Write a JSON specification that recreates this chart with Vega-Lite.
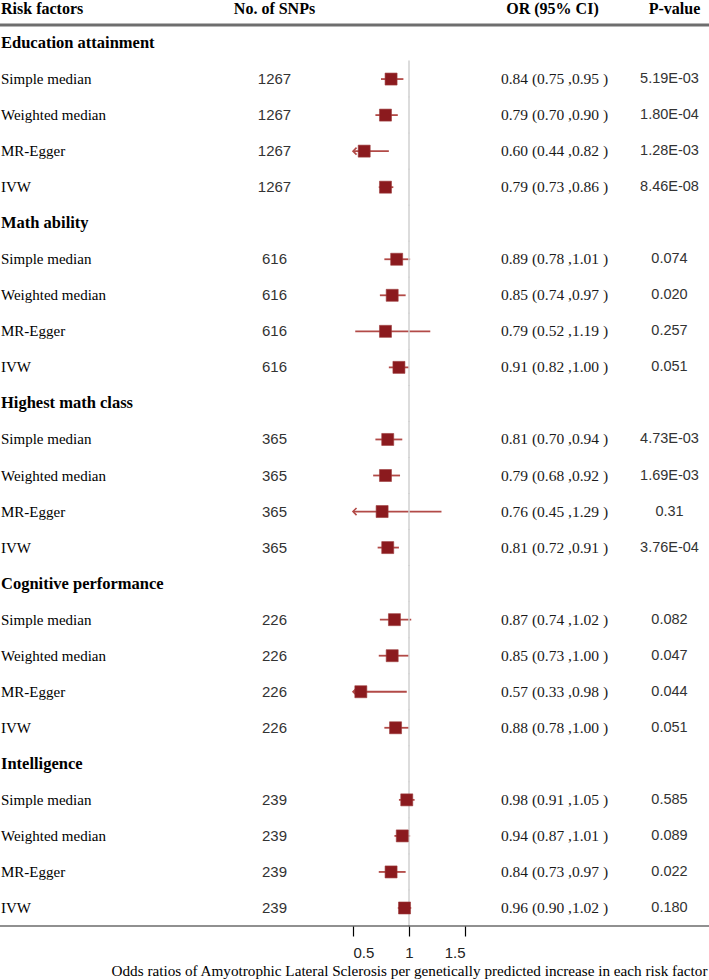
{
  "$schema": "https://vega.github.io/schema/vega-lite/v6.json",
  "padding": 0,
  "background": "white",
  "spacing": 0,
  "bounds": "flush",
  "config": {
    "view": {"stroke": null},
    "title": {"font": "Liberation Serif", "fontSize": 16, "fontWeight": "bold", "color": "#000", "offset": 7},
    "text": {"baseline": "middle"}
  },
  "data": {"values": [
    {"key": "EA", "type": "group", "label": "Education attainment"},
    {"key": "EA-SM", "type": "method", "label": "Simple median", "snps": "1267", "or": 0.84, "lo": 0.75, "hi": 0.95, "ci": "0.84 (0.75 ,0.95 )", "p": "5.19E-03"},
    {"key": "EA-WM", "type": "method", "label": "Weighted median", "snps": "1267", "or": 0.79, "lo": 0.70, "hi": 0.90, "ci": "0.79 (0.70 ,0.90 )", "p": "1.80E-04"},
    {"key": "EA-ME", "type": "method", "label": "MR-Egger", "snps": "1267", "or": 0.60, "lo": 0.44, "hi": 0.82, "ci": "0.60 (0.44 ,0.82 )", "p": "1.28E-03"},
    {"key": "EA-IVW", "type": "method", "label": "IVW", "snps": "1267", "or": 0.79, "lo": 0.73, "hi": 0.86, "ci": "0.79 (0.73 ,0.86 )", "p": "8.46E-08"},
    {"key": "MA", "type": "group", "label": "Math ability"},
    {"key": "MA-SM", "type": "method", "label": "Simple median", "snps": "616", "or": 0.89, "lo": 0.78, "hi": 1.01, "ci": "0.89 (0.78 ,1.01 )", "p": "0.074"},
    {"key": "MA-WM", "type": "method", "label": "Weighted median", "snps": "616", "or": 0.85, "lo": 0.74, "hi": 0.97, "ci": "0.85 (0.74 ,0.97 )", "p": "0.020"},
    {"key": "MA-ME", "type": "method", "label": "MR-Egger", "snps": "616", "or": 0.79, "lo": 0.52, "hi": 1.19, "ci": "0.79 (0.52 ,1.19 )", "p": "0.257"},
    {"key": "MA-IVW", "type": "method", "label": "IVW", "snps": "616", "or": 0.91, "lo": 0.82, "hi": 1.00, "ci": "0.91 (0.82 ,1.00 )", "p": "0.051"},
    {"key": "HM", "type": "group", "label": "Highest math class"},
    {"key": "HM-SM", "type": "method", "label": "Simple median", "snps": "365", "or": 0.81, "lo": 0.70, "hi": 0.94, "ci": "0.81 (0.70 ,0.94 )", "p": "4.73E-03"},
    {"key": "HM-WM", "type": "method", "label": "Weighted median", "snps": "365", "or": 0.79, "lo": 0.68, "hi": 0.92, "ci": "0.79 (0.68 ,0.92 )", "p": "1.69E-03"},
    {"key": "HM-ME", "type": "method", "label": "MR-Egger", "snps": "365", "or": 0.76, "lo": 0.45, "hi": 1.29, "ci": "0.76 (0.45 ,1.29 )", "p": "0.31"},
    {"key": "HM-IVW", "type": "method", "label": "IVW", "snps": "365", "or": 0.81, "lo": 0.72, "hi": 0.91, "ci": "0.81 (0.72 ,0.91 )", "p": "3.76E-04"},
    {"key": "CP", "type": "group", "label": "Cognitive performance"},
    {"key": "CP-SM", "type": "method", "label": "Simple median", "snps": "226", "or": 0.87, "lo": 0.74, "hi": 1.02, "ci": "0.87 (0.74 ,1.02 )", "p": "0.082"},
    {"key": "CP-WM", "type": "method", "label": "Weighted median", "snps": "226", "or": 0.85, "lo": 0.73, "hi": 1.00, "ci": "0.85 (0.73 ,1.00 )", "p": "0.047"},
    {"key": "CP-ME", "type": "method", "label": "MR-Egger", "snps": "226", "or": 0.57, "lo": 0.33, "hi": 0.98, "ci": "0.57 (0.33 ,0.98 )", "p": "0.044"},
    {"key": "CP-IVW", "type": "method", "label": "IVW", "snps": "226", "or": 0.88, "lo": 0.78, "hi": 1.00, "ci": "0.88 (0.78 ,1.00 )", "p": "0.051"},
    {"key": "IN", "type": "group", "label": "Intelligence"},
    {"key": "IN-SM", "type": "method", "label": "Simple median", "snps": "239", "or": 0.98, "lo": 0.91, "hi": 1.05, "ci": "0.98 (0.91 ,1.05 )", "p": "0.585"},
    {"key": "IN-WM", "type": "method", "label": "Weighted median", "snps": "239", "or": 0.94, "lo": 0.87, "hi": 1.01, "ci": "0.94 (0.87 ,1.01 )", "p": "0.089"},
    {"key": "IN-ME", "type": "method", "label": "MR-Egger", "snps": "239", "or": 0.84, "lo": 0.73, "hi": 0.97, "ci": "0.84 (0.73 ,0.97 )", "p": "0.022"},
    {"key": "IN-IVW", "type": "method", "label": "IVW", "snps": "239", "or": 0.96, "lo": 0.90, "hi": 1.02, "ci": "0.96 (0.90 ,1.02 )", "p": "0.180"}
  ]},
  "hconcat": [
    {
      "width": 200, "height": 901,
      "title": {"text": "Risk factors", "anchor": "start", "dx": 1},
      "encoding": {"y": {"field": "key", "type": "nominal", "sort": null, "axis": null,
        "scale": {"type": "band", "paddingInner": 0, "paddingOuter": 0, "domain": ["EA","EA-SM","EA-WM","EA-ME","EA-IVW","MA","MA-SM","MA-WM","MA-ME","MA-IVW","HM","HM-SM","HM-WM","HM-ME","HM-IVW","CP","CP-SM","CP-WM","CP-ME","CP-IVW","IN","IN-SM","IN-WM","IN-ME","IN-IVW"]}}},
      "layer": [
        {"transform": [{"filter": "datum.type === 'group'"}],
         "mark": {"type": "text", "align": "left", "dx": 1, "font": "Liberation Serif", "fontSize": 16.5, "fontWeight": "bold", "color": "#000"},
         "encoding": {"x": {"datum": 0, "type": "quantitative", "scale": {"domain": [0, 1]}, "axis": null}, "text": {"field": "label"}}},
        {"transform": [{"filter": "datum.type === 'method'"}],
         "mark": {"type": "text", "align": "left", "dx": 1, "font": "Liberation Serif", "fontSize": 15, "color": "#000"},
         "encoding": {"x": {"datum": 0, "type": "quantitative", "scale": {"domain": [0, 1]}, "axis": null}, "text": {"field": "label"}}},
        {"transform": [{"filter": "datum.key === 'EA'"}],
         "mark": {"type": "tick", "orient": "horizontal", "size": 200, "thickness": 3, "color": "#6e6e6e", "opacity": 1},
         "encoding": {"y": {"field": "key", "type": "nominal", "bandPosition": 0}}},
        {"transform": [{"filter": "datum.key === 'IN-IVW'"}],
         "mark": {"type": "tick", "orient": "horizontal", "size": 200, "thickness": 1.2, "color": "#222", "opacity": 1},
         "encoding": {"y": {"field": "key", "type": "nominal", "bandPosition": 1}}}
      ]
    },
    {
      "width": 153, "height": 901,
      "title": {"text": "No. of SNPs", "anchor": "middle", "dx": -2},
      "encoding": {"y": {"field": "key", "type": "nominal", "sort": null, "axis": null,
        "scale": {"type": "band", "paddingInner": 0, "paddingOuter": 0, "domain": ["EA","EA-SM","EA-WM","EA-ME","EA-IVW","MA","MA-SM","MA-WM","MA-ME","MA-IVW","HM","HM-SM","HM-WM","HM-ME","HM-IVW","CP","CP-SM","CP-WM","CP-ME","CP-IVW","IN","IN-SM","IN-WM","IN-ME","IN-IVW"]}}},
      "layer": [
        {"transform": [{"filter": "datum.type === 'method'"}],
         "mark": {"type": "text", "align": "center", "dx": -2, "font": "Liberation Sans", "fontSize": 15, "color": "#333"},
         "encoding": {"text": {"field": "snps"}}},
        {"transform": [{"filter": "datum.key === 'EA'"}],
         "mark": {"type": "tick", "orient": "horizontal", "size": 153, "thickness": 3, "color": "#6e6e6e", "opacity": 1},
         "encoding": {"y": {"field": "key", "type": "nominal", "bandPosition": 0}}},
        {"transform": [{"filter": "datum.key === 'IN-IVW'"}],
         "mark": {"type": "tick", "orient": "horizontal", "size": 153, "thickness": 1.2, "color": "#222", "opacity": 1},
         "encoding": {"y": {"field": "key", "type": "nominal", "bandPosition": 1}}}
      ]
    },
    {
      "width": 112, "height": 901,
      "encoding": {"y": {"field": "key", "type": "nominal", "sort": null, "axis": null,
        "scale": {"type": "band", "paddingInner": 0, "paddingOuter": 0, "domain": ["EA","EA-SM","EA-WM","EA-ME","EA-IVW","MA","MA-SM","MA-WM","MA-ME","MA-IVW","HM","HM-SM","HM-WM","HM-ME","HM-IVW","CP","CP-SM","CP-WM","CP-ME","CP-IVW","IN","IN-SM","IN-WM","IN-ME","IN-IVW"]}}},
      "layer": [
        {"transform": [{"filter": "datum.type === 'method'"}],
         "mark": {"type": "rule", "color": "#b24a47", "strokeWidth": 1.8, "clip": true},
         "encoding": {
           "x": {"field": "lo", "type": "quantitative",
             "scale": {"domain": [0.5, 1.5], "nice": false, "zero": false},
             "axis": {"values": [0.5, 1, 1.5], "format": "~g", "domain": false, "grid": false,
               "ticks": true, "tickSize": 10, "tickColor": "#000", "tickWidth": 1.2,
               "labelFont": "Liberation Sans", "labelFontSize": 15, "labelColor": "#222", "labelPadding": 9,
               "title": "Odds ratios of Amyotrophic Lateral Sclerosis per genetically predicted increase in each risk factor",
               "titleFont": "Liberation Serif", "titleFontSize": 15.2, "titleFontWeight": "normal", "titleColor": "#000", "titlePadding": 3}},
           "x2": {"field": "hi"}}},
        {"transform": [{"filter": "datum.key !== 'EA'"}],
         "mark": {"type": "tick", "orient": "vertical", "size": 37, "thickness": 1.5, "color": "#d0d0d0", "opacity": 1},
         "encoding": {"x": {"datum": 1, "type": "quantitative"}}},
        {"transform": [{"filter": "datum.type === 'method' && datum.lo < 0.5"}],
         "mark": {"type": "point", "shape": "M1,-1L0,0L1,1", "filled": false, "size": 50, "strokeWidth": 1.6, "color": "#b24a47", "opacity": 1},
         "encoding": {"x": {"datum": 0.5, "type": "quantitative"}}},
        {"transform": [{"filter": "datum.type === 'method'"}],
         "mark": {"type": "point", "shape": "square", "filled": true, "size": 144, "color": "#8b1a1e", "opacity": 1, "stroke": "#9c3a3a", "strokeWidth": 0.6},
         "encoding": {"x": {"field": "or", "type": "quantitative"}}},
        {"transform": [{"filter": "datum.key === 'EA'"}],
         "mark": {"type": "tick", "orient": "horizontal", "size": 112, "thickness": 3, "color": "#6e6e6e", "opacity": 1},
         "encoding": {"y": {"field": "key", "type": "nominal", "bandPosition": 0}}},
        {"transform": [{"filter": "datum.key === 'IN-IVW'"}],
         "mark": {"type": "tick", "orient": "horizontal", "size": 112, "thickness": 1.2, "color": "#222", "opacity": 1},
         "encoding": {"y": {"field": "key", "type": "nominal", "bandPosition": 1}}}
      ]
    },
    {
      "width": 179, "height": 901,
      "title": {"text": "OR (95% CI)", "anchor": "middle", "dx": -2},
      "encoding": {"y": {"field": "key", "type": "nominal", "sort": null, "axis": null,
        "scale": {"type": "band", "paddingInner": 0, "paddingOuter": 0, "domain": ["EA","EA-SM","EA-WM","EA-ME","EA-IVW","MA","MA-SM","MA-WM","MA-ME","MA-IVW","HM","HM-SM","HM-WM","HM-ME","HM-IVW","CP","CP-SM","CP-WM","CP-ME","CP-IVW","IN","IN-SM","IN-WM","IN-ME","IN-IVW"]}}},
      "layer": [
        {"transform": [{"filter": "datum.type === 'method'"}],
         "mark": {"type": "text", "align": "center", "font": "Liberation Serif", "fontSize": 15.5, "color": "#1a1a1a"},
         "encoding": {"text": {"field": "ci"}}},
        {"transform": [{"filter": "datum.key === 'EA'"}],
         "mark": {"type": "tick", "orient": "horizontal", "size": 179, "thickness": 3, "color": "#6e6e6e", "opacity": 1},
         "encoding": {"y": {"field": "key", "type": "nominal", "bandPosition": 0}}},
        {"transform": [{"filter": "datum.key === 'IN-IVW'"}],
         "mark": {"type": "tick", "orient": "horizontal", "size": 179, "thickness": 1.2, "color": "#222", "opacity": 1},
         "encoding": {"y": {"field": "key", "type": "nominal", "bandPosition": 1}}}
      ]
    },
    {
      "width": 65, "height": 901,
      "title": {"text": "P-value", "anchor": "middle", "dx": -2},
      "encoding": {"y": {"field": "key", "type": "nominal", "sort": null, "axis": null,
        "scale": {"type": "band", "paddingInner": 0, "paddingOuter": 0, "domain": ["EA","EA-SM","EA-WM","EA-ME","EA-IVW","MA","MA-SM","MA-WM","MA-ME","MA-IVW","HM","HM-SM","HM-WM","HM-ME","HM-IVW","CP","CP-SM","CP-WM","CP-ME","CP-IVW","IN","IN-SM","IN-WM","IN-ME","IN-IVW"]}}},
      "layer": [
        {"transform": [{"filter": "datum.type === 'method'"}],
         "mark": {"type": "text", "align": "center", "dx": -7, "font": "Liberation Sans", "fontSize": 14.5, "color": "#333"},
         "encoding": {"text": {"field": "p"}}},
        {"transform": [{"filter": "datum.key === 'EA'"}],
         "mark": {"type": "tick", "orient": "horizontal", "size": 65, "thickness": 3, "color": "#6e6e6e", "opacity": 1},
         "encoding": {"y": {"field": "key", "type": "nominal", "bandPosition": 0}}},
        {"transform": [{"filter": "datum.key === 'IN-IVW'"}],
         "mark": {"type": "tick", "orient": "horizontal", "size": 65, "thickness": 1.2, "color": "#222", "opacity": 1},
         "encoding": {"y": {"field": "key", "type": "nominal", "bandPosition": 1}}}
      ]
    }
  ]
}
